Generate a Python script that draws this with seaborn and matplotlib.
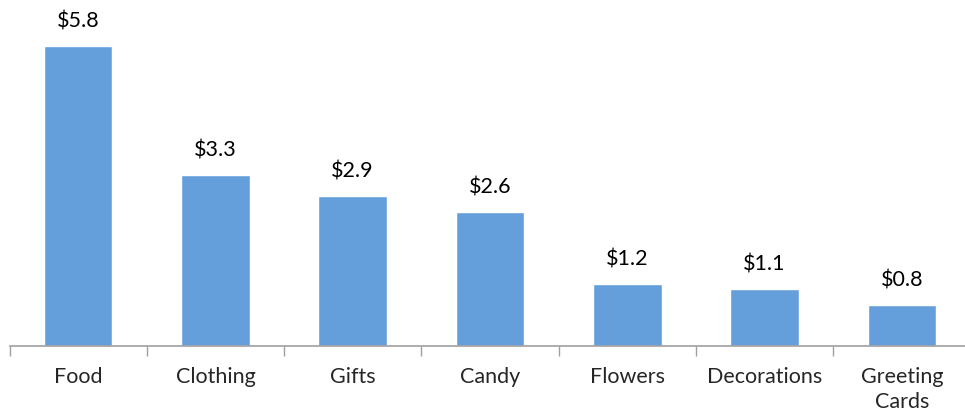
import matplotlib
matplotlib.use("Agg")
import matplotlib.pyplot as plt
import numpy as np
import pandas as pd
import seaborn as sns

categorias = ["Food", "Clothing", "Gifts", "Candy", "Flowers", "Decorations", "Greeting\nCards"]
valores = [5.8, 3.3, 2.9, 2.6, 1.2, 1.1, 0.8]
rotulos = ["$5.8", "$3.3", "$2.9", "$2.6", "$1.2", "$1.1", "$0.8"]

sns.set_style("white")
plt.rcParams['font.family'] = ['Lato', 'DejaVu Sans']

df = pd.DataFrame({'Categoria': categorias, 'Valor': valores})

fig = plt.figure(figsize=(9.65, 4.15), dpi=100)
ax = fig.add_axes([9.5 / 965, 69 / 415, 961 / 965, 336 / 415])

sns.barplot(data=df, x='Categoria', y='Valor', color='#659FDB', width=0.5,
            saturation=1, ax=ax)

for i, (v, r) in enumerate(zip(valores, rotulos)):
    ax.text(i, v + 0.28, r, ha='center', va='bottom', fontsize=15.5, color='black')

ax.set_xlim(-0.5, 6.5)
ax.set_ylim(0, 6.5)
ax.set_xlabel('')
ax.set_ylabel('')
ax.set_yticks([])

# ticks nas fronteiras, rotulos no centro
ax.set_xticks(np.arange(-0.5, 7, 1))
ax.set_xticklabels([])
ax.set_xticks(range(len(categorias)), minor=True)
ax.set_xticklabels(categorias, minor=True, fontsize=15.5, linespacing=1.35)
ax.tick_params(axis='x', which='major', direction='out', length=7, width=1,
               color='#A0A0A0', bottom=True)
ax.tick_params(axis='x', which='minor', length=0, pad=15)

for lado in ['top', 'right', 'left']:
    ax.spines[lado].set_visible(False)
ax.spines['bottom'].set_color('#A0A0A0')
ax.spines['bottom'].set_linewidth(1.2)

fig.savefig('out.png', dpi=100)
